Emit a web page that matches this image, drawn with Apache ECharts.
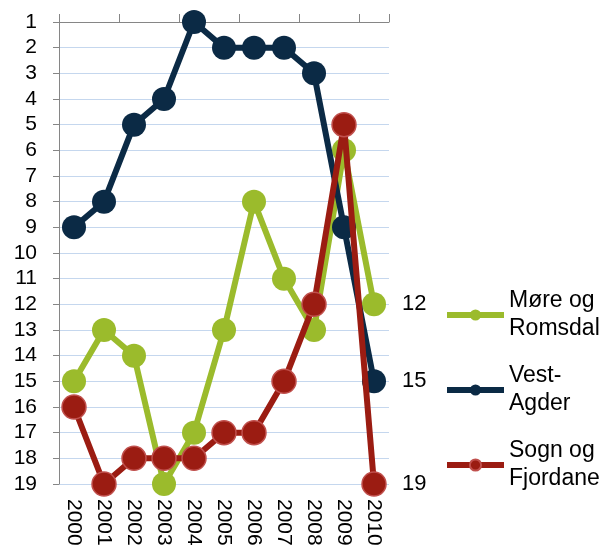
<!DOCTYPE html>
<html><head><meta charset="utf-8">
<script src="https://cdn.jsdelivr.net/npm/echarts@6/dist/echarts.min.js"></script>
<style>html,body{margin:0;padding:0;background:#fff}#c{width:601px;height:551px}</style>
</head><body><div id="c"></div>
<script>
var years = ['2000','2001','2002','2003','2004','2005','2006','2007','2008','2009','2010'];
var moreRomsdal = [15, 13, 14, 19, 17, 13, 8, 11, 13, 6, 12];
var vestAgder = [9, 8, 5, 4, 1, 2, 2, 2, 3, 9, 15];
var sognFjordane = [16, 19, 18, 18, 18, 17, 17, 15, 12, 5, 19];
var seriesNames = ['Møre og Romsdal', 'Vest-Agder', 'Sogn og Fjordane'];
var legendLabels = ['Møre og\nRomsdal', 'Vest-\nAgder', 'Sogn og\nFjordane'];
var colors = ['#9bbb2c', '#0b2a45', '#9b1c12'];

var font = 'Liberation Sans, Arial, sans-serif';
var chart = echarts.init(document.getElementById('c'), null, {renderer: 'canvas'});

function mkSeries(i, data, z) {
  return {
    name: seriesNames[i], type: 'line', data: data, xAxisIndex: 0, z: z,
    symbol: 'circle', symbolSize: 24, showSymbol: true, showAllSymbol: true,
    lineStyle: {color: colors[i], width: 6},
    itemStyle: i === 2 ? {color: colors[i], borderColor: '#c0504d', borderWidth: 1.5} : {color: colors[i], borderWidth: 0},
    emphasis: {disabled: true},
    endLabel: {show: true, formatter: '{c}', distance: 28, color: '#000', fontSize: 22, fontFamily: font}
  };
}

function mkLegend(i, top) {
  return {
    data: [seriesNames[i]], orient: 'vertical', left: 444, top: top,
    itemWidth: 57, itemHeight: 14, padding: 0, itemGap: 3,
    lineStyle: {width: 6},
    formatter: function () { return legendLabels[i]; },
    textStyle: {color: '#000', fontSize: 23, fontFamily: font, lineHeight: 28, padding: [28, 0, 0, 0]}
  };
}

chart.setOption({
  animation: false,
  backgroundColor: '#fff',
  grid: {left: 59, top: 22, right: 212, bottom: 67, containLabel: false},
  legend: [mkLegend(0, 315 - 42), mkLegend(1, 390 - 42), mkLegend(2, 465 - 42)],
  xAxis: [
    {type: 'category', data: years, position: 'top', boundaryGap: true,
     axisLine: {show: true, lineStyle: {color: '#868686', width: 1}},
     axisTick: {show: true, length: 8, lineStyle: {color: '#868686'}},
     axisLabel: {show: false}, splitLine: {show: false}},
    {type: 'category', data: years, position: 'bottom', boundaryGap: true,
     axisLine: {show: false}, axisTick: {show: false},
     axisLabel: {show: true, rotate: -90, margin: 15, color: '#000', fontSize: 21, fontFamily: font},
     splitLine: {show: false}}
  ],
  yAxis: {
    type: 'value', inverse: true, min: 1, max: 19, interval: 1,
    axisLine: {show: true, lineStyle: {color: '#868686', width: 1}},
    axisTick: {show: true, length: 6, lineStyle: {color: '#868686'}},
    axisLabel: {color: '#000', fontSize: 21, fontFamily: font, margin: 22},
    splitLine: {show: true, lineStyle: {color: '#c5d7ee', width: 1}}
  },
  series: [
    mkSeries(0, moreRomsdal, 2),
    mkSeries(1, vestAgder, 3),
    mkSeries(2, sognFjordane, 4)
  ]
});
</script></body></html>
